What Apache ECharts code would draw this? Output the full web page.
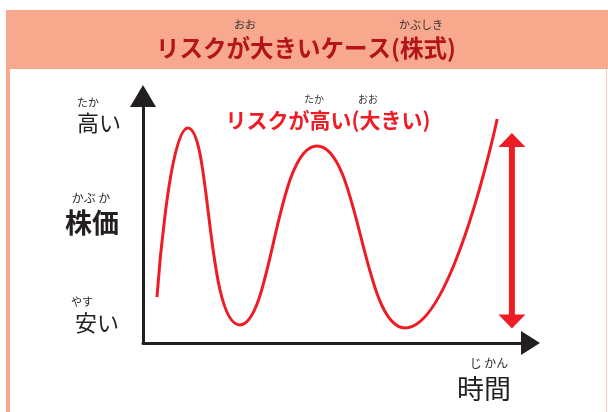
<!DOCTYPE html>
<html>
<head>
<meta charset="utf-8">
<script src="https://cdn.jsdelivr.net/npm/echarts@6/dist/echarts.min.js"></script>
<style>
  html, body { margin: 0; padding: 0; background: #fff; }
  #chart { width: 608px; height: 412px; }
</style>
</head>
<body>
<div id="chart"></div>
<script>
// --- Data (time 0-100, price 0-100) ---
// start, peak, trough, peak, trough, end
const curveTime  = [3.6, 11.6, 25.0, 44.9, 67.6, 91.4];
const curvePrice = [18.6, 87.0, 7.3, 79.8, 6.1, 90.7];
const rangeTime = 95.2;
const rangePrice = [82.2, 8.7];   // arrowhead centres (high, low)

const titleText = 'リスクが大きいケース(株式)';
const noteText = 'リスクが高い(大きい)';
const yLabels = ['高い', '株価', '安い'];
const xLabel = '時間';

const FONT = '"Noto Sans CJK JP", sans-serif';
const RED = '#ee1c25';
const INK = '#231f20';
const SALMON = '#f8a98d';

const chart = echarts.init(document.getElementById('chart'), null, { renderer: 'canvas' });

function txt(x, y, text, size, color, weight) {
  return {
    type: 'text', x, y, z: 10,
    style: {
      text, fill: color, font: `${weight || 'normal'} ${size}px ${FONT}`,
      textAlign: 'center', textVerticalAlign: 'middle'
    }
  };
}

chart.setOption({
  backgroundColor: '#fff',
  animation: false,
  grid: { left: 143, right: 77.5, top: 96, bottom: 69 },
  xAxis: {
    type: 'value', min: 0, max: 100,
    axisLine: { symbol: ['none', 'triangle'], symbolSize: [24, 19], lineStyle: { color: INK, width: 3 } },
    axisTick: { show: false }, axisLabel: { show: false }, splitLine: { show: false }
  },
  yAxis: {
    type: 'value', min: 0, max: 100,
    axisLine: { show: true, symbol: ['none', 'triangle'], symbolSize: [26, 22], lineStyle: { color: INK, width: 3 } },
    axisTick: { show: false }, axisLabel: { show: false }, splitLine: { show: false }
  },
  series: [
    {
      type: 'line',
      data: curveTime.map((t, i) => [t, curvePrice[i]]),
      smooth: 0.5,
      showSymbol: false,
      lineStyle: { color: RED, width: 3 },
      z: 3
    },
    {
      type: 'line',
      data: [
        { value: [rangeTime, rangePrice[0]], symbol: 'triangle', symbolSize: [27, 14] },
        { value: [rangeTime, rangePrice[1]], symbol: 'triangle', symbolSize: [27, 14], symbolRotate: 180 }
      ],
      lineStyle: { color: RED, width: 6 },
      itemStyle: { color: RED },
      showAllSymbol: true,
      z: 4
    }
  ],
  graphic: [
    // header + frame
    { type: 'rect', shape: { x: 6, y: 10, width: 602, height: 59 }, style: { fill: SALMON } },
    { type: 'rect', shape: { x: 6, y: 69, width: 4, height: 343 }, style: { fill: SALMON } },
    { type: 'rect', shape: { x: 606, y: 69, width: 1, height: 343 }, style: { fill: '#fbcdbb' } },
    txt(306, 48, titleText, 23.5, '#b3141c', 'bold'),
    txt(245, 25, 'おお', 11, '#333'),
    txt(421, 25, 'かぶしき', 11, '#333'),
    // red note
    txt(328, 120, noteText, 21, RED, 'bold'),
    txt(314, 99, 'たか', 10, '#333'),
    txt(368, 99, 'おお', 10, '#333'),
    // y labels
    txt(88, 103, 'たか', 11, INK),
    txt(99, 123, yLabels[0], 22, INK),
    txt(91, 198, 'かぶ か', 12, INK),
    txt(92, 223, yLabels[1], 27, INK, 'bold'),
    txt(82, 302, 'やす', 11, INK),
    txt(97, 323, yLabels[2], 22, INK),
    // x label
    txt(489, 363, 'じ かん', 12, INK),
    txt(484, 389, xLabel, 27, INK)
  ]
});
</script>
</body>
</html>
